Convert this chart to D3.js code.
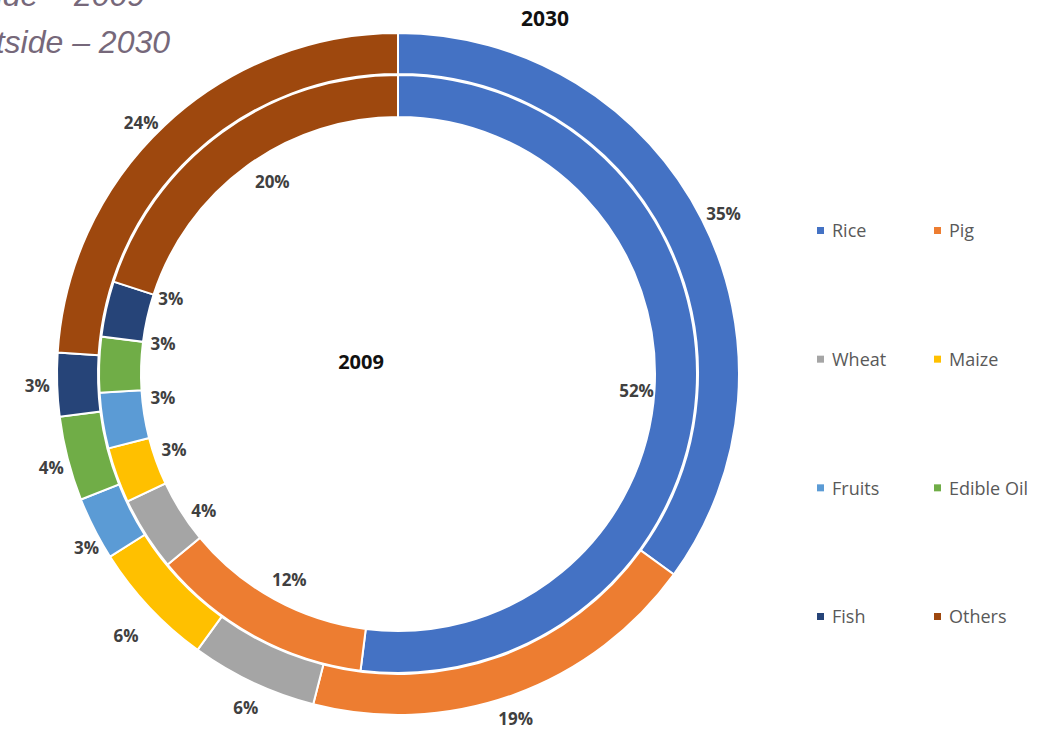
<!DOCTYPE html>
<html>
<head>
<meta charset="utf-8">
<script src="https://cdn.jsdelivr.net/npm/d3@7"></script>
<style>
  html, body { margin: 0; padding: 0; background: #fff; overflow: hidden; }
  svg { display: block; }
</style>
</head>
<body>
<svg id="chart" width="1059" height="730"></svg>
<script>
// Food categories, in the order they run clockwise from 12 o'clock
const categories = ["Rice", "Pig", "Wheat", "Maize", "Fruits", "Edible Oil", "Fish", "Others"];
// Share of each category (%), inner ring = 2009, outer ring = 2030
const values2009 = [52, 12, 4, 3, 3, 3, 3, 20];
const values2030 = [35, 19, 6, 6, 3, 4, 3, 24];
const colors = ["#4472C4", "#ED7D31", "#A5A5A5", "#FFC000", "#5B9BD5", "#70AD47", "#264478", "#9E480E"];
const noteLines = ["Inside \u2013 2009", "Outside \u2013 2030"];

const svg = d3.select("#chart");
const cx = 398, cy = 374;

const color = d3.scaleOrdinal().domain(categories).range(colors);

const pie = d3.pie().sort(null).value(d => d.value).startAngle(0).endAngle(2 * Math.PI);

// Label nudges (px) so the small slices' labels don't crowd each other
const innerNudge = [[3, 2], [5, -1], [5, 10], [-2, -4], [-2, -13], [1, -23], [3, -24], [13, -1]];
const outerNudge = [[3, 4], [-5, 4], [2, 6], [-8, 14], [11, 10], [4, 4], [1, 1], [-9, 13]];

const rings = [
  { year: "2009", values: values2009, r0: 257, r1: 299, labelR: 236, nudge: innerNudge },
  { year: "2030", values: values2030, r0: 300, r1: 341, labelR: 362, nudge: outerNudge }
];

const g = svg.append("g").attr("transform", `translate(${cx},${cy})`);

rings.forEach(ring => {
  const data = categories.map((c, i) => ({ name: c, value: ring.values[i] }));
  const arcs = pie(data);
  const arc = d3.arc().innerRadius(ring.r0).outerRadius(ring.r1);
  const labelArc = d3.arc().innerRadius(ring.labelR).outerRadius(ring.labelR);

  g.append("g").selectAll("path")
    .data(arcs)
    .join("path")
    .attr("d", arc)
    .attr("fill", d => color(d.data.name))
    .attr("stroke", "#fff")
    .attr("stroke-width", 2);

  g.append("g").selectAll("text")
    .data(arcs)
    .join("text")
    .attr("transform", d => {
      const [x, y] = labelArc.centroid(d);
      const [nx, ny] = ring.nudge[d.index];
      return `translate(${x + nx},${y + ny})`;
    })
    .attr("text-anchor", "middle")
    .attr("dy", "0.36em")
    .attr("font-family", "'Open Sans', sans-serif")
    .attr("font-weight", 700)
    .attr("font-size", 17)
    .attr("fill", "#404040")
    .text(d => d.data.value + "%");
});

// Ring titles
svg.append("text")
  .attr("x", 545).attr("y", 26)
  .attr("text-anchor", "middle")
  .attr("font-family", "'Open Sans', sans-serif")
  .attr("font-weight", 700)
  .attr("font-size", 21)
  .attr("fill", "#111")
  .text("2030");

svg.append("text")
  .attr("x", 361).attr("y", 369)
  .attr("text-anchor", "middle")
  .attr("font-family", "'Open Sans', sans-serif")
  .attr("font-weight", 700)
  .attr("font-size", 20)
  .attr("fill", "#111")
  .text("2009");

// Note on which ring is which year
svg.append("g").selectAll("text")
  .data(noteLines)
  .join("text")
  .attr("x", -47)
  .attr("y", (d, i) => 6 + i * 47)
  .attr("font-family", "'Liberation Sans', Arial, sans-serif")
  .attr("font-style", "italic")
  .attr("font-size", 32)
  .attr("fill", "#76687A")
  .text(d => d);

// Legend: two columns, four rows
const legend = svg.append("g");
const colX = [821, 938];
const rowY = d3.scalePoint().domain([0, 1, 2, 3]).range([231, 617]);

const items = legend.selectAll("g")
  .data(categories)
  .join("g")
  .attr("transform", (d, i) => `translate(${colX[i % 2]},${rowY(Math.floor(i / 2))})`);

items.append("rect")
  .attr("x", -4).attr("y", -4)
  .attr("width", 7).attr("height", 7)
  .attr("fill", d => color(d));

items.append("text")
  .attr("x", 11)
  .attr("dy", "0.36em")
  .attr("font-family", "'Open Sans', sans-serif")
  .attr("font-size", 18)
  .attr("fill", "#595959")
  .text(d => d);
</script>
</body>
</html>
